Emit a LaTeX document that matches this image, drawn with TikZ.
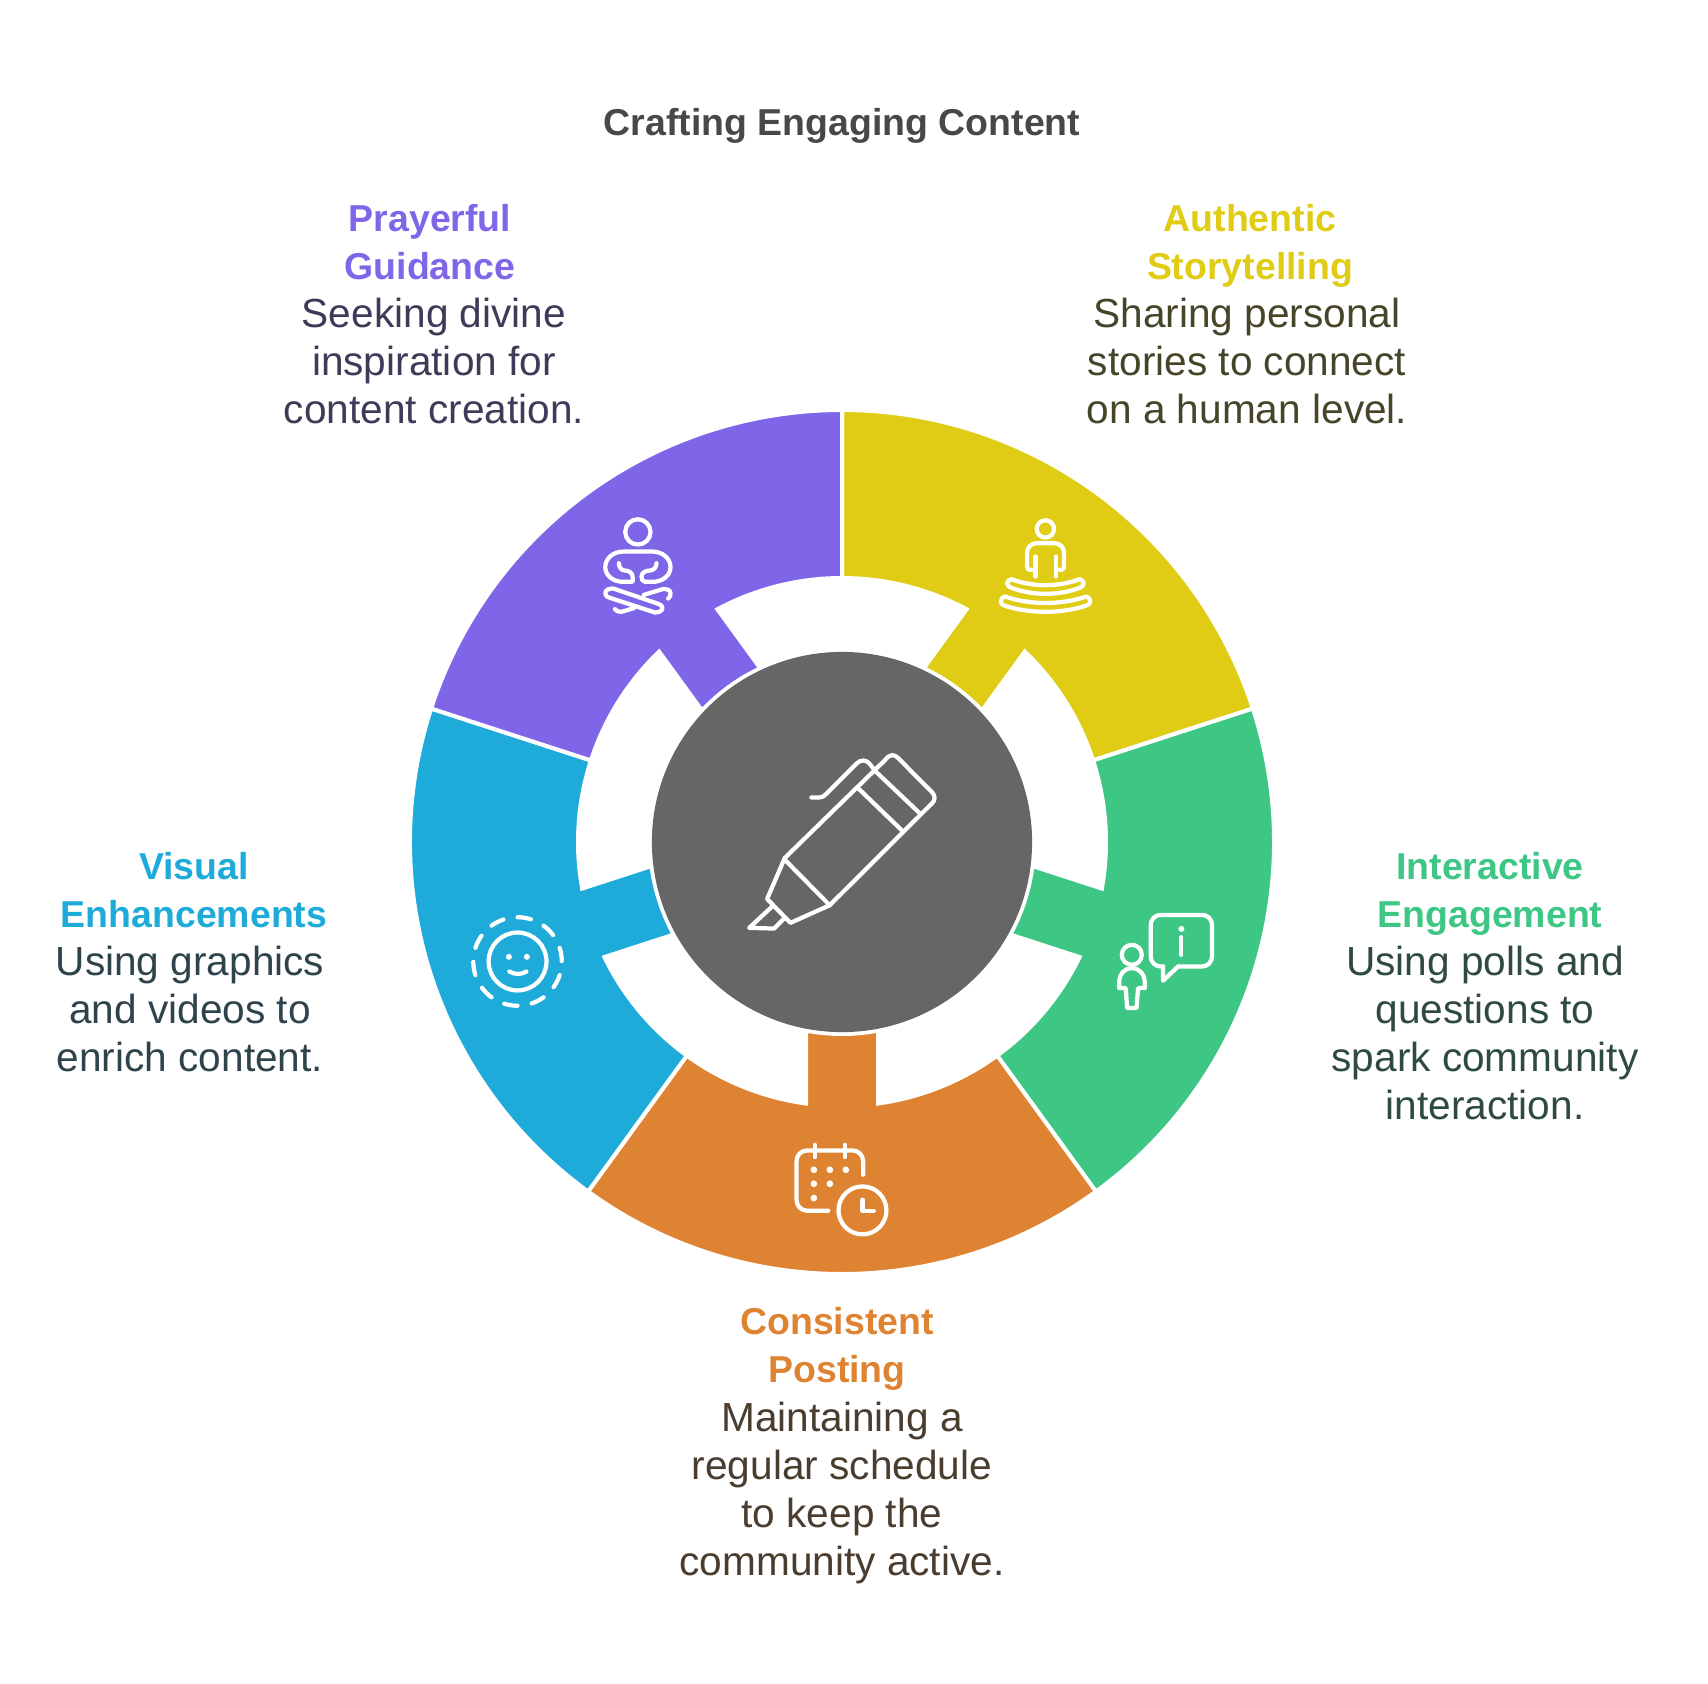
\documentclass[tikz,border=0pt]{standalone}
\usepackage{fontspec}
\setmainfont{Liberation Sans}
\usepackage{tikz}
\definecolor{storycol}{HTML}{E0CC14}
\definecolor{storytxt}{HTML}{46452A}
\definecolor{engagecol}{HTML}{3EC685}
\definecolor{engagetxt}{HTML}{2F4A40}
\definecolor{postcol}{HTML}{DE8331}
\definecolor{posttxt}{HTML}{4A3D30}
\definecolor{visualcol}{HTML}{1FABDA}
\definecolor{visualtxt}{HTML}{2F434C}
\definecolor{prayercol}{HTML}{7F66E8}
\definecolor{prayertxt}{HTML}{3E3A58}
\definecolor{hubcol}{HTML}{666666}
\definecolor{titlecol}{HTML}{484848}
\tikzset{
  headtxt/.style={align=center, anchor=base, font=\fontsize{10.65}{13.65}\selectfont\bfseries, inner sep=0pt},
  desctxt/.style={align=center, anchor=base, font=\fontsize{11.55}{13.65}\selectfont, inner sep=0pt},
  segment/.style={draw=white, line width=1.14pt, line join=miter},
  icon/.style={draw=white, line width=1.2pt, line cap=round, line join=round},
  icondot/.style={fill=white, draw=none},
}
\begin{document}
\begin{tikzpicture}[x=0.01cm,y=-0.01cm]
\useasboundingbox (0,0) rectangle (1708,1684);

% ring
\foreach \ang/\segcol in {54/storycol,-18/engagecol,-90/postcol,-162/visualcol,126/prayercol}{
  \begin{scope}[shift={(842,842)},y=0.01cm,rotate=\ang]
    \draw[segment, fill=\segcol] (36:432) arc[start angle=36,end angle=-36,radius=432] -- (-36:264) arc[start angle=-36,end angle=-7.84,radius=264] -- (-10.81:192) arc[start angle=-10.81,end angle=10.81,radius=192] -- (7.84:264) arc[start angle=7.84,end angle=36,radius=264] -- cycle;
  \end{scope}
}
\node[circle, fill=hubcol, minimum size=3.8cm, inner sep=0pt] (hub) at (842,842) {};

% pen
\begin{scope}[shift={(640,640)},x=0.00333cm,y=-0.00333cm]
  \draw[icon] (515,473) -- (540,473) to[out=0,in=225] (560,462) -- (650,372) to[out=45,in=180] (672,362) to[out=0,in=135] (690,372) -- (708,395);
  \draw[icon] (435,655) -- (735,362) to[out=45,in=180] (757,346) to[out=0,in=135] (775,354) -- (878,458) to[out=-45,in=90] (885,475) to[out=-90,in=45] (878,490) -- (570,797);
  \draw[icon] (655,445) -- (790,575);
  \draw[icon] (708,395) -- (840,520);
  \draw[icon] (435,660) -- (570,797);
  \draw[icon] (435,655) -- (382,778) -- (452,850) -- (570,797);
  \draw[icon] (398,800) -- (328,865) -- (403,867) -- (435,835);
\end{scope}

% prayer icon
\begin{scope}[shift={(560,480)},x=0.00333cm,y=-0.00333cm]
  \draw[icon] (234,156) circle[radius=38];
  \draw[icon] (215,306) -- (190,306) to[out=180,in=-90] (136,262) to[out=90,in=180] (190,215) -- (278,215) to[out=0,in=90] (332,262) to[out=-90,in=0] (278,306) -- (255,306) to[out=180,in=-90] (245,290) to[out=90,in=180] (270,272) to[out=0,in=-90] (290,250);
  \draw[icon] (215,306) to[out=0,in=-90] (218,290) to[out=90,in=0] (195,272) to[out=180,in=-90] (177,250);
  \draw[icon] (160,326) -- (295,372) to[out=-20,in=90] (308,384) to[out=-90,in=0] (285,398) -- (150,354) to[out=180,in=-90] (136,340) to[out=90,in=180] (160,326);
  \draw[icon] (165,388) to[out=-60,in=180] (185,396) -- (222,385);
  \draw[icon] (252,345) -- (312,327) to[out=0,in=90] (332,340) to[out=-90,in=30] (325,356);
\end{scope}

% story icon
\begin{scope}[shift={(880,480)},x=0.00333cm,y=-0.00333cm]
  \draw[icon] (497,147) circle[radius=26];
  \draw[icon] (455,270) -- (450,270) to[out=180,in=-90] (442,260) -- (442,218) to[out=90,in=180] (470,190) -- (525,190) to[out=0,in=90] (553,218) -- (553,260) to[out=-90,in=0] (545,270) -- (540,270);
  \draw[icon] (467,230) -- (467,290);
  \draw[icon] (528,230) -- (528,290);
  \draw[icon] (395,298) .. controls (460,322) and (535,322) .. (600,298) to[out=-20,in=90] (612,310) to[out=-90,in=20] (600,324) .. controls (535,348) and (460,348) .. (395,324) to[out=160,in=-90] (382,310) to[out=90,in=200] cycle;
  \draw[icon] (375,350) .. controls (450,376) and (545,376) .. (620,350) to[out=-20,in=90] (632,365) to[out=-90,in=20] (618,378) .. controls (545,402) and (450,402) .. (375,378) to[out=160,in=-90] (363,365) to[out=90,in=200] cycle;
\end{scope}

% engage icon
\begin{scope}[shift={(1000,840)},x=0.00333cm,y=-0.00333cm]
  \draw[icon, rounded corners=2.8pt] (490,380) -- (453,380) -- (453,225) -- (637,225) -- (637,380) -- (535,380);
  \draw[icon] (535,380) -- (490,423) -- (490,380);
  \fill[icondot] (545,267) circle[radius=9];
  \draw[icon] (545,292) -- (545,345);
  \draw[icon] (396,345) circle[radius=30];
  \draw[icon] (358,445) -- (358,425) to[out=90,in=180] (396,385) to[out=0,in=90] (435,425) -- (435,445) -- (415,445) -- (410,505) -- (382,505) -- (378,445) -- cycle;
\end{scope}

% post icon
\begin{scope}[shift={(740,1020)},x=0.00333cm,y=-0.00333cm]
  \draw[icon, rounded corners=3pt] (265,573) -- (170,573) -- (170,392) -- (370,392) -- (370,465);
  \draw[icon] (225,375) -- (225,412);
  \draw[icon] (315,375) -- (315,412);
  \foreach \dotx/\doty in {222/450,270/450,318/450,222/492,270/492,222/535}
    \fill[icondot] (\dotx,\doty) circle[radius=10];
  \draw[icon] (368,572) circle[radius=72];
  \draw[icon] (368,540) -- (368,573) -- (402,573);
\end{scope}

% visual icon
\begin{scope}[shift={(440,840)},x=0.00333cm,y=-0.00333cm]
  \foreach \k in {0,...,9}
    \draw[icon] ([shift={(233,365)}]{-90+36*\k}:133) arc[start angle={-90+36*\k},end angle={-72.5+36*\k},radius=133];
  \draw[icon] (233,365) circle[radius=87];
  \fill[icondot] (207,351) circle[radius=9];
  \fill[icondot] (261,351) circle[radius=9];
  \draw[icon] (208,395) to[out=-30,in=-150] (260,395);
\end{scope}

% text
\node[headtxt, titlecol] (title) at (842,135) {Crafting Engaging Content};
\node[headtxt, prayercol] (prayerhead) at (430,279) {Prayerful\\Guidance};
\node[desctxt, prayertxt] (prayerdesc) at (434,423) {Seeking divine\\inspiration for\\content creation.};
\node[headtxt, storycol] (storyhead) at (1250,279) {Authentic\\Storytelling};
\node[desctxt, storytxt] (storydesc) at (1247,423) {Sharing personal\\stories to connect\\on a human level.};
\node[headtxt, engagecol] (engagehead) at (1490,927) {Interactive\\Engagement};
\node[desctxt, engagetxt] (engagedesc) at (1485,1119) {Using polls and\\questions to\\spark community\\interaction.};
\node[headtxt, postcol] (posthead) at (837,1382) {Consistent\\Posting};
\node[desctxt, posttxt] (postdesc) at (842,1575) {Maintaining a\\regular schedule\\to keep the\\community active.};
\node[headtxt, visualcol] (visualhead) at (194,927) {Visual\\Enhancements};
\node[desctxt, visualtxt] (visualdesc) at (190,1071) {Using graphics\\and videos to\\enrich content.};
\end{tikzpicture}
\end{document}
